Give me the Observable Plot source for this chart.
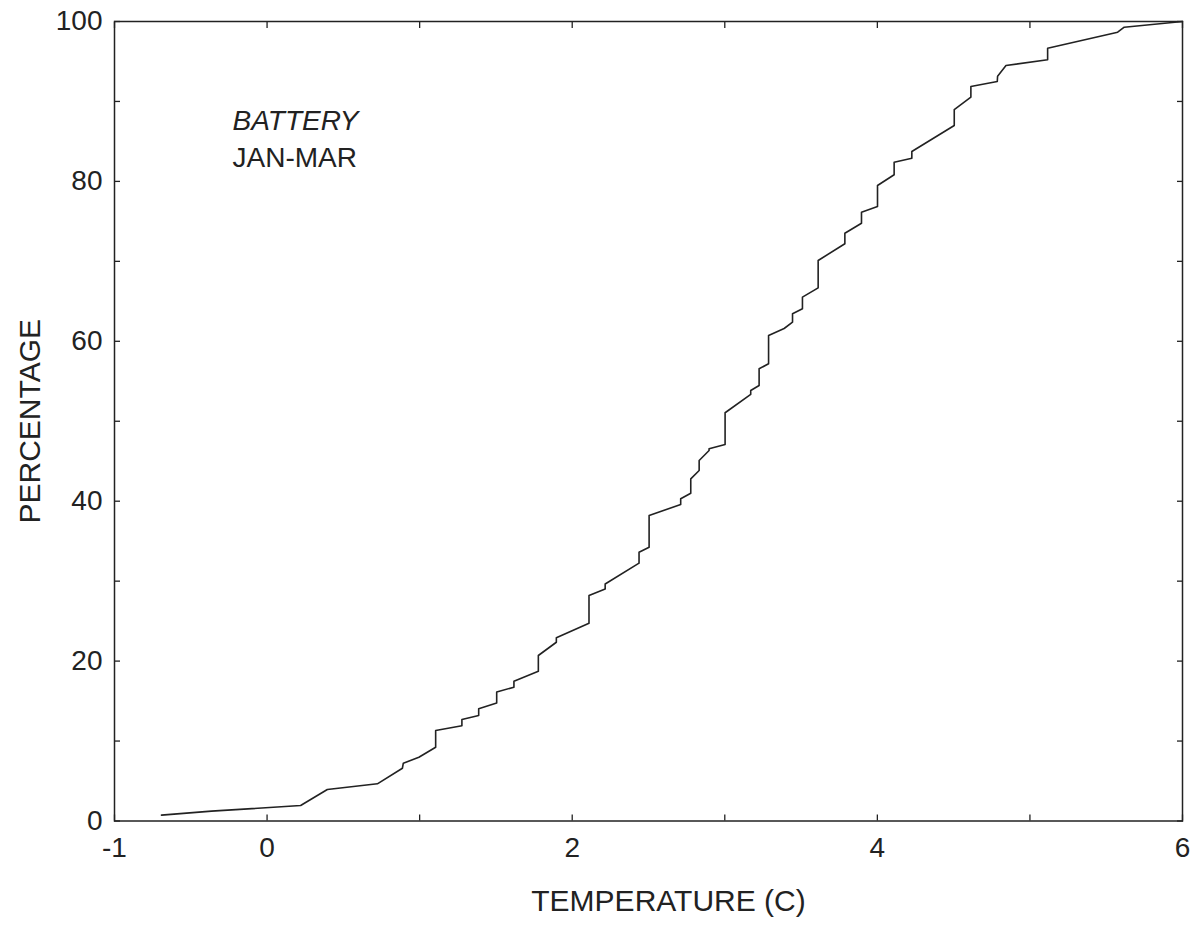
<!DOCTYPE html>
<html><head><meta charset="utf-8">
<script src="https://cdn.jsdelivr.net/npm/d3@7"></script>
<script src="https://cdn.jsdelivr.net/npm/@observablehq/plot@0.6"></script>
<style>
html,body{margin:0;padding:0;background:#fff;}
</style>
</head><body><div id="chart"></div>
<script>
// Cumulative distribution of temperature (C) vs percentage
const temperature = [-0.692,-0.364,0.220,0.395,0.723,0.887,0.893,0.995,1.105,1.105,1.277,1.277,1.387,1.387,1.505,1.505,1.618,1.618,1.778,1.778,1.896,1.896,2.110,2.110,2.216,2.216,2.438,2.438,2.504,2.504,2.711,2.711,2.777,2.777,2.832,2.832,2.897,2.897,3.002,3.002,3.170,3.170,3.225,3.225,3.287,3.287,3.389,3.444,3.444,3.509,3.509,3.612,3.612,3.787,3.787,3.896,3.896,4.001,4.001,4.110,4.110,4.226,4.226,4.504,4.504,4.613,4.613,4.786,4.788,4.843,5.116,5.116,5.575,5.618,6.0];
const percentage = [0.73,1.23,1.94,3.94,4.65,6.60,7.23,7.98,9.23,11.32,11.92,12.70,13.20,14.03,14.76,16.13,16.74,17.49,18.74,20.70,22.36,22.91,24.74,28.21,29.02,29.64,32.25,33.62,34.25,38.21,39.59,40.30,41.00,42.80,43.84,45.09,46.34,46.55,47.09,51.06,53.35,53.85,54.47,56.56,57.19,60.73,61.60,62.39,63.44,64.06,65.52,66.69,70.11,72.20,73.52,74.77,76.15,76.86,79.49,80.83,82.40,82.90,83.74,86.99,88.99,90.53,91.87,92.50,93.16,94.50,95.21,96.66,98.66,99.29,100];
const xTicks = [-1,0,1,2,3,4,5,6];
const xTickLabels = [-1,0,2,4,6];
const yTicks = [0,10,20,30,40,50,60,70,80,90,100];
const yTickLabels = [0,20,40,60,80,100];
const titleLine1 = "BATTERY";
const titleLine2 = "JAN-MAR";
const xLabel = "TEMPERATURE (C)";
const yLabel = "PERCENTAGE";

const data = temperature.map((t, i) => ({t, p: percentage[i]}));
const ink = "#222";
const font = "'Liberation Sans', Arial, sans-serif";

const chart = Plot.plot({
  width: 1194, height: 925,
  marginLeft: 114, marginRight: 12, marginTop: 21, marginBottom: 104.5,
  style: {fontFamily: font, fontSize: "28px", color: ink, background: "#fff"},
  x: {domain: [-1, 6]},
  y: {domain: [0, 100]},
  marks: [
    Plot.frame({stroke: ink, strokeWidth: 1.5}),
    Plot.axisX(xTicks, {anchor: "bottom", tickSize: 6, dy: -6, fill: "none", label: null, stroke: ink, strokeWidth: 1.3}),
    Plot.axisX(xTicks, {anchor: "top", tickSize: 6, dy: 6, fill: "none", label: null, stroke: ink, strokeWidth: 1.3}),
    Plot.axisY(yTicks, {anchor: "left", tickSize: 6, dx: 6, fill: "none", label: null, stroke: ink, strokeWidth: 1.3}),
    Plot.axisY(yTicks, {anchor: "right", tickSize: 6, dx: -6, fill: "none", label: null, stroke: ink, strokeWidth: 1.3}),
    Plot.axisX(xTickLabels, {anchor: "bottom", tickSize: 0, tickPadding: 16, label: null, fontSize: 28, fill: ink, tickFormat: d => String(d)}),
    Plot.axisY(yTickLabels, {anchor: "left", tickSize: 0, tickPadding: 12, label: null, fontSize: 28, fill: ink, tickFormat: d => String(d)}),
    Plot.line(data, {x: "t", y: "p", stroke: ink, strokeWidth: 1.6}),
    Plot.text([titleLine1], {frameAnchor: "top-left", dx: 118, dy: 89, lineAnchor: "top", textAnchor: "start", fontSize: 28, fontStyle: "italic", fill: ink}),
    Plot.text([titleLine2], {frameAnchor: "top-left", dx: 118, dy: 126, lineAnchor: "top", textAnchor: "start", fontSize: 28, fill: ink}),
    Plot.text([xLabel], {frameAnchor: "bottom", dx: 20, dy: 80, lineAnchor: "middle", textAnchor: "middle", fontSize: 30, fill: ink}),
    Plot.text([yLabel], {frameAnchor: "left", dx: -84, rotate: -90, lineAnchor: "middle", textAnchor: "middle", fontSize: 30, fill: ink})
  ]
});
document.getElementById("chart").appendChild(chart);
</script>
</body></html>
